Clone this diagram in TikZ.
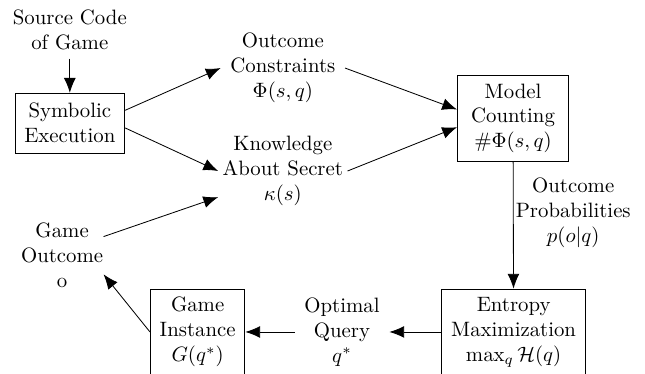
\documentclass[tikz,border=0pt]{standalone}
\usepackage{amsmath}
\usepackage{amssymb}
\usetikzlibrary{arrows.meta}

\begin{document}
\begin{tikzpicture}[>={Latex[length=2.5mm,width=2mm]},thin,align=center,inner xsep=4.5pt,inner ysep=3.8pt]
  \tikzstyle{box}=[draw=black]
  \useasboundingbox (0,0) rectangle (10.9,-6.32);

  % Steps
  \node (src) at (1.18,-0.51) {Source Code\\of Game};
  \node[box,minimum height=1.01cm] (sym) at (1.18,-2.08) {Symbolic\\Execution};
  \node (oc) at (4.78,-1.15) {Outcome\\Constraints\\$\Phi(s,q)$};
  \node[inner xsep=2pt] (kn) at (4.78,-2.89) {Knowledge\\About Secret\\$\kappa(s)$};
  \node[box,minimum width=1.88cm] (mc) at (8.67,-2.0) {Model\\Counting\\$\#\Phi(s,q)$};
  \node[box] (ent) at (8.68,-5.61) {Entropy\\Maximization\\$\max_q\mathcal{H}(q)$};
  \node (oq) at (5.78,-5.61) {Optimal\\Query\\$q^*$};
  \node[box] (gi) at (3.34,-5.61) {Game\\Instance\\$G(q^*)$};
  \node[inner xsep=0pt] (go) at (1.05,-4.31) {Game\\Outcome\\o};

  % Flow
  \path[->]
    (src) edge (sym)
    (sym.13) edge (oc.west)
    (sym.-5) edge (kn.west)
    (oc.east) edge (mc.171)
    (kn.east) edge (mc.189)
    (mc) edge node[right,pos=0.4,inner xsep=1pt]{Outcome\\Probabilities\\$p(o|q)$} (ent)
    (ent) edge (oq)
    (oq) edge (gi)
    (gi.west) edge (go.-25)
    (go.24) edge (kn.202);
\end{tikzpicture}
\end{document}
